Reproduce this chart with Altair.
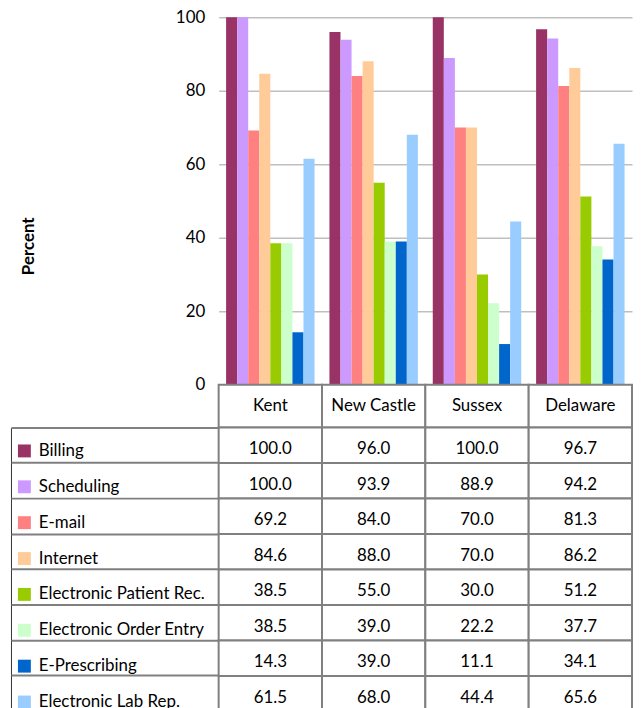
import altair as alt
import pandas as pd

counties = ["Kent", "New Castle", "Sussex", "Delaware"]
categories = ["Billing", "Scheduling", "E-mail", "Internet",
              "Electronic Patient Rec.", "Electronic Order Entry",
              "E-Prescribing", "Electronic Lab Rep."]
colors = ["#993366", "#cc99ff", "#ff8080", "#ffcc99",
          "#99cc00", "#ccffcc", "#0066cc", "#99ccff"]
kent = [100.0, 100.0, 69.2, 84.6, 38.5, 38.5, 14.3, 61.5]
new_castle = [96.0, 93.9, 84.0, 88.0, 55.0, 39.0, 39.0, 68.0]
sussex = [100.0, 88.9, 70.0, 70.0, 30.0, 22.2, 11.1, 44.4]
delaware = [96.7, 94.2, 81.3, 86.2, 51.2, 37.7, 34.1, 65.6]
y_ticks = [0, 20, 40, 60, 80, 100]

rows = []
for county, vals in zip(counties, [kent, new_castle, sussex, delaware]):
    for cat, v in zip(categories, vals):
        rows.append({"county": county, "category": cat, "value": v})
df = pd.DataFrame(rows)
header_df = pd.DataFrame({"county": counties})

FONT = "Lato"
LINE = "#808080"
DARK = "#333333"
FS = 17

color = alt.Color(
    "category:N", sort=categories,
    scale=alt.Scale(domain=categories, range=colors),
    legend=alt.Legend(orient="none", legendX=-204, legendY=428, title=None,
                      symbolType="square", symbolSize=169, symbolStrokeWidth=0,
                      labelFontSize=FS, labelFont=FONT, labelColor="black",
                      rowPadding=18.1, labelOffset=6, labelLimit=400, padding=0),
)

bars = alt.Chart(df).mark_bar().encode(
    x=alt.X("county:N", sort=counties,
            scale=alt.Scale(paddingInner=0.144, paddingOuter=0.072),
            axis=alt.Axis(title=None, labels=False, ticks=False, grid=False,
                          domain=True, domainColor=DARK, domainWidth=1)),
    xOffset=alt.XOffset("category:N", sort=categories),
    y=alt.Y("value:Q", scale=alt.Scale(domain=[0, 100]),
            axis=alt.Axis(values=y_ticks, title="Percent", domain=False, ticks=False,
                          labelFontSize=FS, labelFont=FONT, labelColor="black",
                          labelPadding=14, gridColor="#bfbfbf", gridWidth=1.5,
                          titleFont=FONT, titleFontSize=FS, titleFontWeight="bold",
                          titleColor="black", titleX=-191, titleY=230,
                          titleAlign="center", titleBaseline="middle", titleAngle=270)),
    color=color,
).properties(width=416, height=370)

xcell = alt.X("county:N", sort=counties,
              scale=alt.Scale(paddingInner=0, paddingOuter=0), axis=None)

header = alt.layer(
    alt.Chart(header_df).mark_rect(fill="white", stroke=LINE, strokeWidth=2).encode(x=xcell),
    alt.Chart(header_df).mark_text(fontSize=FS, font=FONT, color="black").encode(
        x=xcell, text="county:N"),
).properties(width=416, height=43)

body = alt.layer(
    alt.Chart(df).mark_rect(fill="white", stroke=LINE, strokeWidth=2).encode(
        x=xcell,
        y=alt.Y("category:N", sort=categories,
                scale=alt.Scale(paddingInner=0, paddingOuter=0),
                axis=alt.Axis(title=None, labels=False, domain=False, ticks=True,
                              tickSize=209, tickColor=LINE, tickWidth=2,
                              bandPosition=0, grid=False))),
    alt.Chart(df).mark_text(fontSize=FS, font=FONT, color="black", dy=4).encode(
        x=xcell,
        y=alt.Y("category:N", sort=categories,
                axis=alt.Axis(title=None, orient="left", offset=209, labels=False,
                              ticks=False, domain=True, domainColor=DARK,
                              domainWidth=1, grid=False)),
        text=alt.Text("value:Q", format=".1f")),
).resolve_axis(y="independent").properties(width=416, height=285.6)

chart = alt.vconcat(bars, header, body, spacing=0, bounds="flush").resolve_scale(
    x="independent", y="independent"
).properties(
    padding={"left": 2, "top": -2, "right": 0, "bottom": 0}
).configure_view(stroke=None)

chart.save("out.html", embed_options={"renderer": "svg", "actions": False})
